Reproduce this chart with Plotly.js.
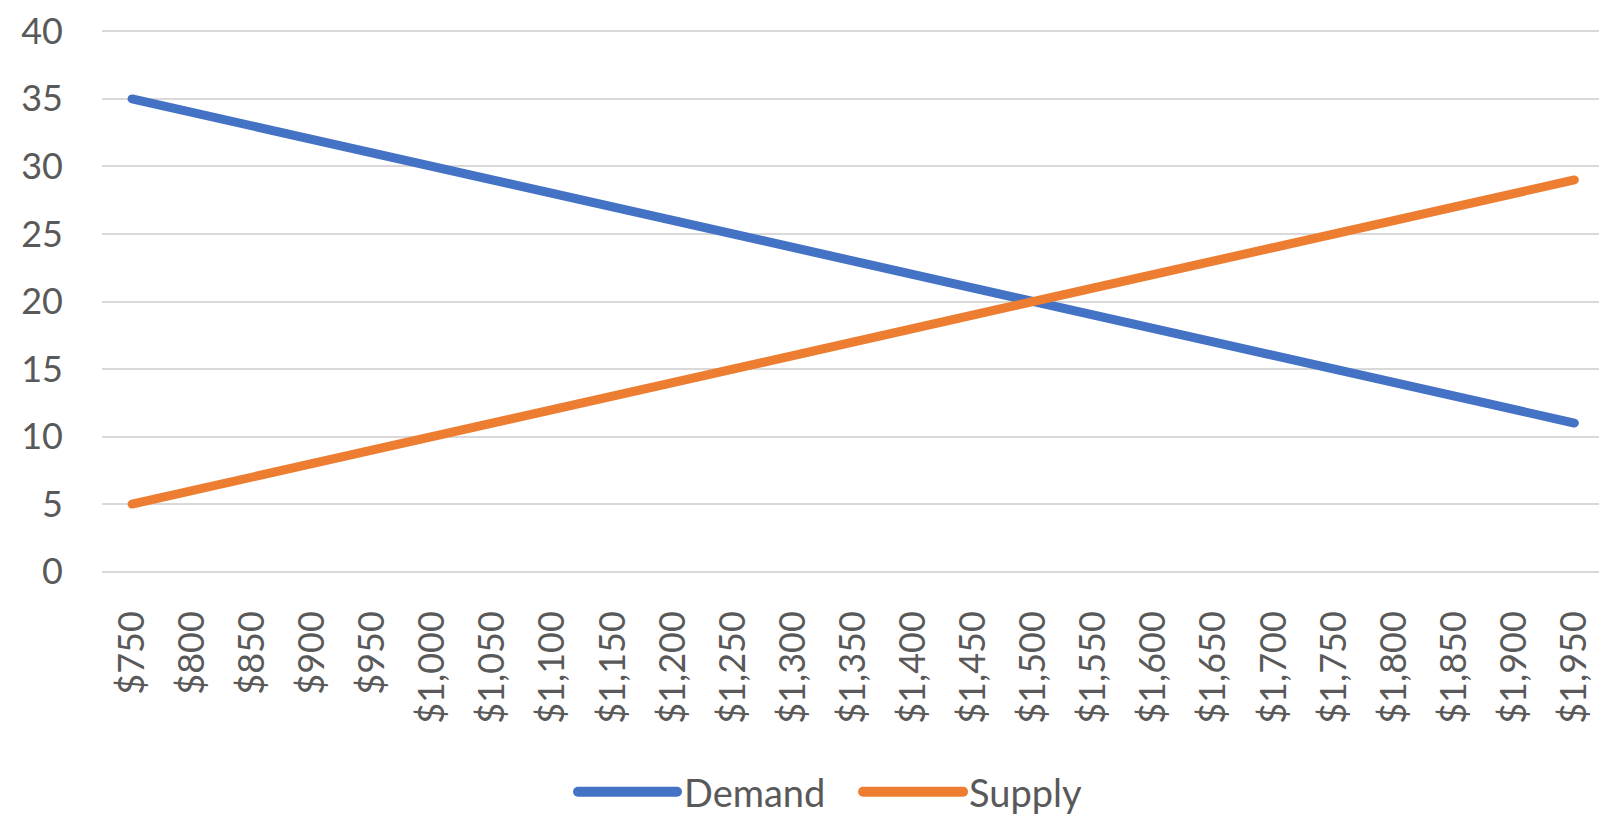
<!DOCTYPE html>
<html>
<head>
<meta charset="utf-8">
<script src="https://cdn.plot.ly/plotly-3.0.1.min.js"></script>
<style>
html,body{margin:0;padding:0;background:#fff;}
#chart{width:1599px;height:814px;}
.scatterlayer .js-line, .shapelayer path {stroke-linecap: round !important; stroke-linejoin: round !important;}
</style>
</head>
<body>
<div id="chart"></div>
<script>
const prices = ["$750","$800","$850","$900","$950","$1,000","$1,050","$1,100","$1,150","$1,200","$1,250","$1,300","$1,350","$1,400","$1,450","$1,500","$1,550","$1,600","$1,650","$1,700","$1,750","$1,800","$1,850","$1,900","$1,950"];
const demand = [35,34,33,32,31,30,29,28,27,26,25,24,23,22,21,20,19,18,17,16,15,14,13,12,11];
const supply = [5,6,7,8,9,10,11,12,13,14,15,16,17,18,19,20,21,22,23,24,25,26,27,28,29];
const yTicks = [0,5,10,15,20,25,30,35,40];
const seriesNames = ["Demand","Supply"];
const seriesColors = ["#4472C4","#ED7D31"];

const font = "Lato, 'Open Sans', sans-serif";
const textColor = "#595959";
const traces = [
  {x: prices, y: demand, name: seriesNames[0], type: "scatter", mode: "lines",
   line: {color: seriesColors[0], width: 9}, showlegend: false},
  {x: prices, y: supply, name: seriesNames[1], type: "scatter", mode: "lines",
   line: {color: seriesColors[1], width: 9}, showlegend: false}
];

// legend key drawn in paper space (below the plot)
const legY = -0.403;
const legendKeys = [
  {x0: 0.3180, x1: 0.3841, tx: 0.3875},
  {x0: 0.5084, x1: 0.5752, tx: 0.5780}
];
const shapes = legendKeys.map((k, i) => ({
  type: "line", xref: "paper", yref: "paper", x0: k.x0, x1: k.x1, y0: legY, y1: legY,
  line: {color: seriesColors[i], width: 10}
}));
const annotations = legendKeys.map((k, i) => ({
  xref: "paper", yref: "paper", x: k.tx, y: legY, xanchor: "left", yanchor: "middle",
  text: seriesNames[i], showarrow: false, font: {family: font, size: 38, color: textColor}
}));

const layout = {
  width: 1599, height: 814,
  margin: {l: 102, r: 0, t: 30, b: 241, pad: 0},
  paper_bgcolor: "#fff", plot_bgcolor: "#fff",
  font: {family: font, color: textColor, size: 36},
  showlegend: false,
  shapes: shapes,
  annotations: annotations,
  xaxis: {type: "category", categoryorder: "array", categoryarray: prices,
          range: [-0.5, 24.41], tickangle: -90, showgrid: false, zeroline: false,
          showline: false, ticks: "", ticklabelstandoff: 30,
          tickfont: {family: font, size: 36, color: textColor}},
  yaxis: {range: [-0.1, 40.1], tickvals: yTicks, ticktext: yTicks.map(String),
          showgrid: true, gridcolor: "#d9d9d9", gridwidth: 2, zeroline: false,
          showline: false, ticks: "", ticklabelstandoff: 38,
          tickfont: {family: font, size: 36, color: textColor}}
};
Plotly.newPlot("chart", traces, layout, {displayModeBar: false, staticPlot: true});
</script>
</body>
</html>
